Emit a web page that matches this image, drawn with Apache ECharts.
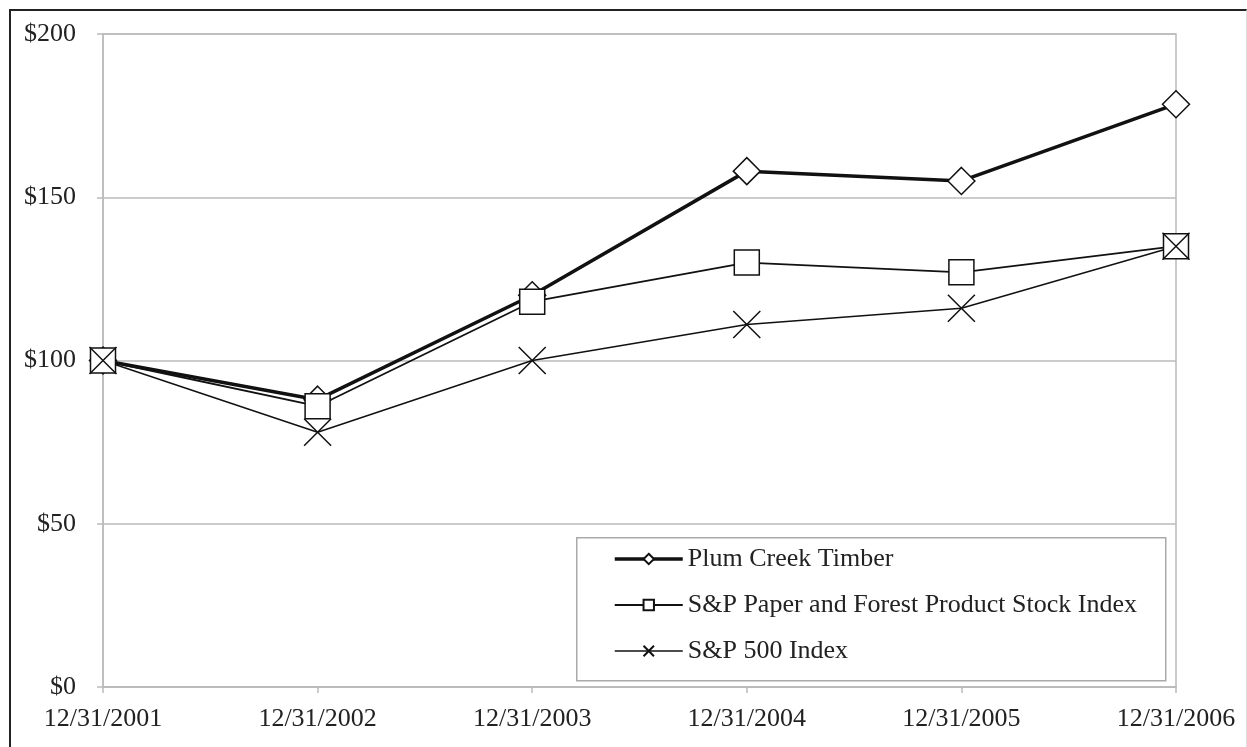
<!DOCTYPE html>
<html>
<head>
<meta charset="utf-8">
<script src="https://cdn.jsdelivr.net/npm/echarts@6/dist/echarts.min.js"></script>
<style>
html,body{margin:0;padding:0;background:#fff;}
#chart{position:absolute;left:0;top:0;width:1247px;height:747px;}
#frame{position:absolute;left:9px;top:9px;width:1235px;height:760px;border-top:2px solid #222;border-left:2px solid #222;border-right:1px solid #ddd;pointer-events:none;}
</style>
</head>
<body>
<div id="chart"></div>
<div id="frame"></div>
<script>
const categories = ['12/31/2001','12/31/2002','12/31/2003','12/31/2004','12/31/2005','12/31/2006'];
const plumCreek = [100, 88, 120, 158, 155, 178.5];
const spPaper = [100, 86, 118, 130, 127, 135];
const sp500 = [100, 78, 100, 111, 116, 135];
const seriesNames = ['Plum Creek Timber','S&P Paper and Forest Product Stock Index','S&P 500 Index'];

const font = '"Liberation Serif", "DejaVu Serif", serif';
const ink = '#111';
const lineWidths = [3.5, 1.8, 1.5];
const chart = echarts.init(document.getElementById('chart'));
chart.setOption({
  backgroundColor: '#fff',
  animation: false,
  textStyle: {fontFamily: font},
  grid: {left: 103, right: 71, top: 34, bottom: 60, show: true, borderColor: '#bbb', borderWidth: 1.5, backgroundColor: 'transparent'},
  xAxis: {
    type: 'category', data: categories, boundaryGap: false,
    axisLine: {lineStyle: {color: '#bbb', width: 1.5}},
    axisTick: {show: true, length: 6, lineStyle: {color: '#bbb', width: 1.5}},
    axisLabel: {color: '#222', fontSize: 26, fontFamily: font, margin: 19}
  },
  yAxis: {
    type: 'value', min: 0, max: 200, interval: 50,
    axisLine: {show: true, lineStyle: {color: '#bbb', width: 1.5}},
    axisTick: {show: true, length: 6, lineStyle: {color: '#bbb', width: 1.5}},
    splitLine: {lineStyle: {color: '#bbb', width: 1.5}},
    axisLabel: {color: '#222', fontSize: 26, fontFamily: font, margin: 27, formatter: v => '$' + v}
  },
  graphic: [{
    type: 'rect', left: 576, top: 537, z: 0,
    shape: {width: 589, height: 143},
    style: {fill: '#fff', stroke: '#aaa', lineWidth: 1.5}
  }],
  legend: {
    orient: 'vertical', left: 613, top: 544, padding: 0, itemGap: 16,
    itemWidth: 68, itemHeight: 13, z: 10,
    textStyle: {fontSize: 26, fontFamily: font, color: '#222', lineHeight: 30},
    data: seriesNames.map((n, i) => ({name: n, lineStyle: {width: lineWidths[i], color: ink}}))
  },
  series: [
    {
      name: seriesNames[0], type: 'line', data: plumCreek,
      symbol: 'diamond', symbolSize: 27,
      lineStyle: {color: ink, width: lineWidths[0]},
      itemStyle: {color: '#fff', borderColor: ink, borderWidth: 1.5}
    },
    {
      name: seriesNames[1], type: 'line', data: spPaper,
      symbol: 'rect', symbolSize: 25,
      lineStyle: {color: ink, width: lineWidths[1]},
      itemStyle: {color: '#fff', borderColor: ink, borderWidth: 1.5}
    },
    {
      name: seriesNames[2], type: 'line', data: sp500,
      symbol: 'path://M0,0L10,10M10,0L0,10', symbolSize: 27,
      lineStyle: {color: ink, width: lineWidths[2]},
      itemStyle: {color: '#fff', borderColor: ink, borderWidth: 1.5}
    }
  ]
});
</script>
</body>
</html>
